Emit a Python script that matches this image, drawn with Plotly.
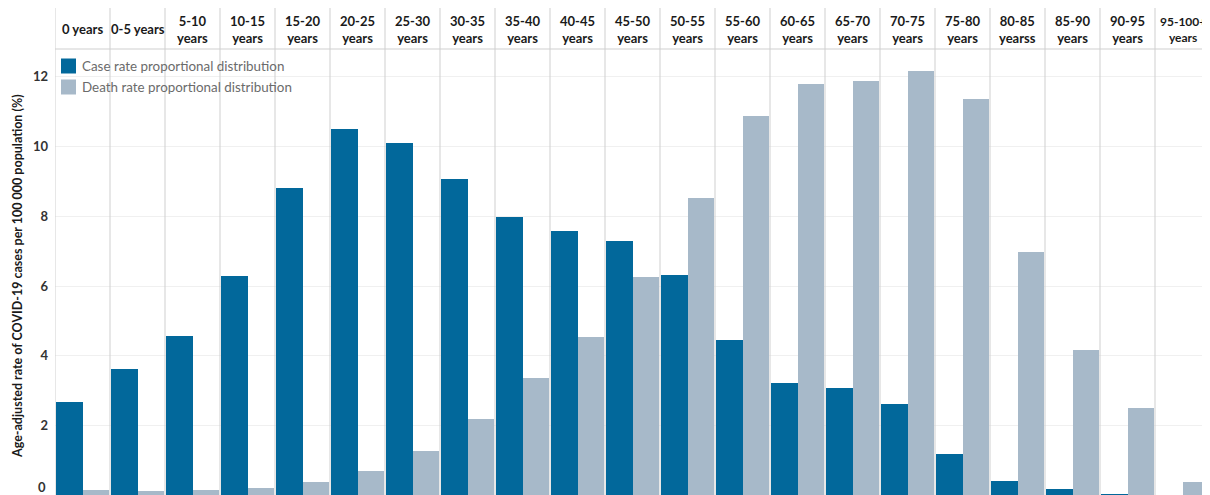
import plotly.graph_objects as go

# ---- data ----
categories = ["0 years", "0-5 years", "5-10 years", "10-15 years", "15-20 years",
              "20-25 years", "25-30 years", "30-35 years", "35-40 years", "40-45 years",
              "45-50 years", "50-55 years", "55-60 years", "60-65 years", "65-70 years",
              "70-75 years", "75-80 years", "80-85 yearss", "85-90 years", "90-95 years",
              "95-100+ years"]
header_labels = ["0 years", "0-5 years", "5-10<br>years", "10-15<br>years", "15-20<br>years",
                 "20-25<br>years", "25-30<br>years", "30-35<br>years", "35-40<br>years",
                 "40-45<br>years", "45-50<br>years", "50-55<br>years", "55-60<br>years",
                 "60-65<br>years", "65-70<br>years", "70-75<br>years", "75-80<br>years",
                 "80-85<br>yearss", "85-90<br>years", "90-95<br>years", "95-100+<br>years"]
case_rate = [2.68, 3.62, 4.57, 6.29, 8.80, 10.51, 10.11, 9.08, 7.99, 7.59, 7.30,
             6.33, 4.46, 3.22, 3.08, 2.62, 1.19, 0.42, 0.19, 0.04, 0.0]
death_rate = [0.17, 0.13, 0.17, 0.22, 0.40, 0.71, 1.28, 2.19, 3.37, 4.54, 6.26,
              8.52, 10.87, 11.79, 11.88, 12.16, 11.36, 6.98, 4.17, 2.51, 0.39]
y_ticks = [2, 4, 6, 8, 10, 12]
series_names = ["Case rate proportional distribution", "Death rate proportional distribution"]
y_title = "Age-adjusted rate of COVID-19 cases per 100 000 population (%)"

CASE_C = "#02689b"
DEATH_C = "#a7b9c9"
SEP_C = "#cfcfcf"
FONT = "Lato"

# page body has an 8px margin: figure is drawn at (8, 8) in the window
OFF = 8
W, H = 1210 - OFF, 495 - OFF
ML, MR, MT, MB = 55 - OFF, 0, 49 - OFF, 0
PW = W - ML - MR
PH = H - MT - MB

idx = list(range(len(categories)))


def px_x(p):  # window pixel -> paper x
    return (p - OFF - ML) / PW


def px_y(p):  # window pixel -> paper y
    return (H - MB - (p - OFF)) / PH


fig = go.Figure()
fig.add_trace(go.Bar(x=idx, y=case_rate, offset=0.02, width=0.48, name=series_names[0],
                     marker=dict(color=CASE_C, line=dict(width=0)), showlegend=False))
fig.add_trace(go.Bar(x=idx, y=death_rate, offset=0.5, width=0.48, name=series_names[1],
                     marker=dict(color=DEATH_C, line=dict(width=0)), showlegend=False))

shapes = []
for i in range(len(categories) + 1):
    shapes.append(dict(type="line", xref="x", yref="paper", x0=i, x1=i,
                       y0=0, y1=px_y(8), line=dict(color=SEP_C, width=1), layer="above"))
shapes.append(dict(type="line", xref="paper", yref="paper", x0=0, x1=1, y0=1, y1=1,
                   line=dict(color=SEP_C, width=1), layer="above"))

annotations = []
for i, lab in enumerate(header_labels):
    size = 12 if "+" in lab else 13
    annotations.append(dict(x=i + 0.5, xref="x", y=px_y(29), yref="paper",
                            text=lab, showarrow=False, xanchor="center", yanchor="middle",
                            align="center",
                            font=dict(family=FONT, size=size, color="#1a1a1a", weight="bold")))

for k, (name, col) in enumerate(zip(series_names, [CASE_C, DEATH_C])):
    cy = 66 + k * 21
    shapes.append(dict(type="rect", xref="paper", yref="paper",
                       x0=px_x(61), x1=px_x(76), y0=px_y(cy + 7.5), y1=px_y(cy - 7.5),
                       fillcolor=col, line=dict(width=0), layer="above"))
    annotations.append(dict(x=px_x(80), xref="paper", y=px_y(cy), yref="paper",
                            text=name, showarrow=False, xanchor="left", yanchor="middle",
                            font=dict(family=FONT, size=13.4, color="#6b6b6b")))

annotations.append(dict(x=px_x(47.5), xref="paper", y=px_y(487), yref="paper", text="0",
                        showarrow=False, xanchor="right", yanchor="middle",
                        font=dict(family=FONT, size=13, color="#333333", weight="bold")))
annotations.append(dict(x=px_x(17), xref="paper", y=px_y(276), yref="paper", text=y_title,
                        showarrow=False, textangle=-90, xanchor="center", yanchor="middle",
                        font=dict(family=FONT, size=12.5, color="#1a1a1a", weight="bold")))

fig.update_layout(
    width=W, height=H,
    margin=dict(l=ML, r=MR, t=MT, b=MB, pad=0),
    paper_bgcolor="white", plot_bgcolor="white",
    barmode="overlay", bargap=0,
    showlegend=False,
    shapes=shapes, annotations=annotations,
    xaxis=dict(range=[0, len(categories)], showgrid=False, zeroline=False,
               showticklabels=False, ticks="", fixedrange=True),
    yaxis=dict(range=[0.015, 12.79], tickvals=y_ticks, ticktext=[str(v) for v in y_ticks],
               showgrid=True, gridcolor="#f0f0f0", gridwidth=1, zeroline=False,
               ticks="", ticklabelstandoff=6,
               tickfont=dict(family=FONT, size=13, color="#333333", weight="bold")),
    font=dict(family=FONT),
)

fig.write_html("out.html")
